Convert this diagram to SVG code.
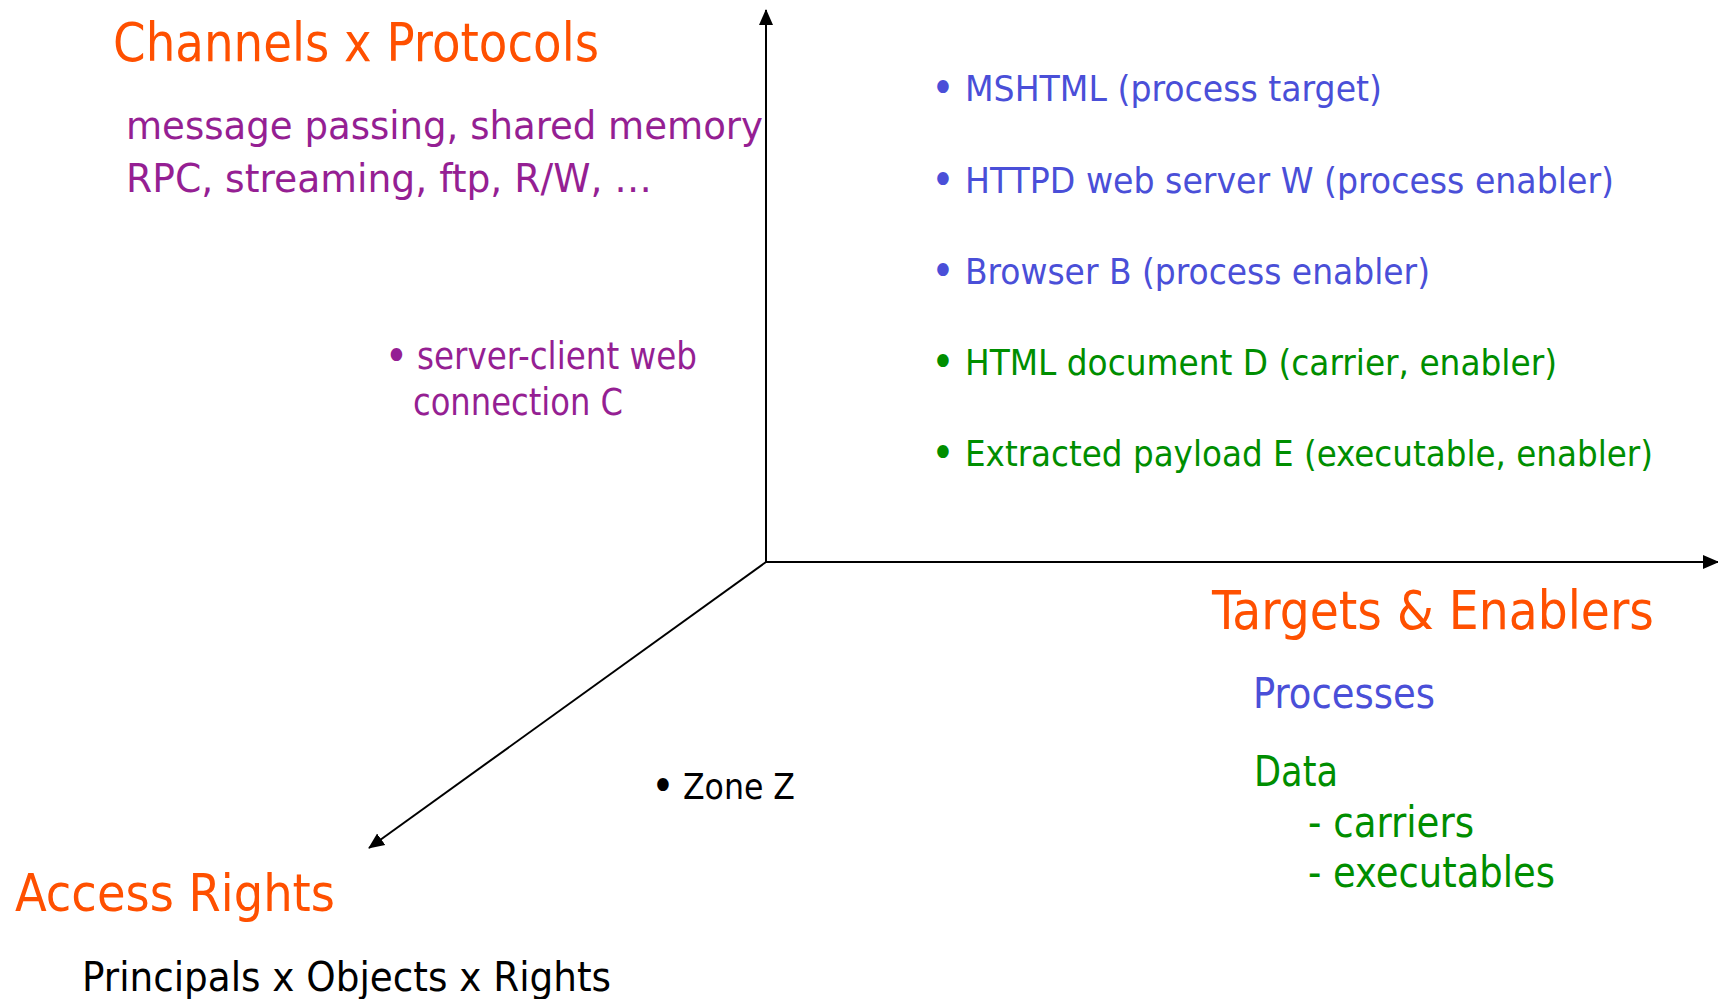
<svg xmlns="http://www.w3.org/2000/svg" width="1718" height="999" viewBox="0 0 1718 999">
<style>
text{font-family:"DejaVu Sans Condensed","DejaVu Sans",sans-serif;}
.h{fill:#FF5000;}
.p{fill:#951F93;}
.b{fill:#4A4FD8;}
.g{fill:#008E00;}
.k{fill:#000;}
.bu{font-size:44px;}
.ax{stroke:#000;stroke-width:2;fill:none;}
</style>
<defs>
<marker id="arr" markerUnits="userSpaceOnUse" markerWidth="16" markerHeight="16" viewBox="0 0 16 16" refX="15" refY="8" orient="auto">
<path d="M0,1 L16,8 L0,15 Z" fill="#000"/>
</marker>
</defs>
<rect width="1718" height="999" fill="#fff"/>
<g id="connectors">
<line class="ax" x1="766" y1="563" x2="766" y2="10" marker-end="url(#arr)"/>
<line class="ax" x1="765" y1="562" x2="1718" y2="562" marker-end="url(#arr)"/>
<line class="ax" x1="766" y1="562" x2="369" y2="848" stroke-width="1.6" marker-end="url(#arr)"/>
</g>
<g id="channels">
<text class="h" x="113" y="61" font-size="54" textLength="486" lengthAdjust="spacingAndGlyphs">Channels x Protocols</text>
<text class="p" x="126" y="139" font-size="39" textLength="637" lengthAdjust="spacingAndGlyphs">message passing, shared memory</text>
<text class="p" x="126" y="192" font-size="39" textLength="526" lengthAdjust="spacingAndGlyphs">RPC, streaming, ftp, R/W, …</text>
</g>
<g id="connection-c">
<text class="p bu" x="396.5" y="371" text-anchor="middle">•</text>
<text class="p" x="417" y="369" font-size="37" textLength="280" lengthAdjust="spacingAndGlyphs">server-client web</text>
<text class="p" x="413" y="415" font-size="37" textLength="210" lengthAdjust="spacingAndGlyphs">connection C</text>
</g>
<g id="items">
<text class="b bu" x="943" y="103" text-anchor="middle">•</text>
<text class="b" x="965" y="101" font-size="36" textLength="417" lengthAdjust="spacingAndGlyphs">MSHTML (process target)</text>
<text class="b bu" x="943" y="195" text-anchor="middle">•</text>
<text class="b" x="965" y="193" font-size="36" textLength="649" lengthAdjust="spacingAndGlyphs">HTTPD web server W (process enabler)</text>
<text class="b bu" x="943" y="286" text-anchor="middle">•</text>
<text class="b" x="965" y="284" font-size="36" textLength="465" lengthAdjust="spacingAndGlyphs">Browser B (process enabler)</text>
<text class="g bu" x="943" y="377" text-anchor="middle">•</text>
<text class="g" x="965" y="375" font-size="36" textLength="592" lengthAdjust="spacingAndGlyphs">HTML document D (carrier, enabler)</text>
<text class="g bu" x="943" y="468" text-anchor="middle">•</text>
<text class="g" x="965" y="466" font-size="36" textLength="688" lengthAdjust="spacingAndGlyphs">Extracted payload E (executable, enabler)</text>
</g>
<g id="targets">
<text class="h" x="1212" y="629" font-size="53" textLength="442" lengthAdjust="spacingAndGlyphs">Targets &amp; Enablers</text>
<text class="b" x="1253" y="708" font-size="42" textLength="182" lengthAdjust="spacingAndGlyphs">Processes</text>
<text class="g" x="1254" y="786" font-size="42" textLength="84" lengthAdjust="spacingAndGlyphs">Data</text>
<text class="g" x="1308" y="837" font-size="42" textLength="166" lengthAdjust="spacingAndGlyphs">- carriers</text>
<text class="g" x="1308" y="887" font-size="42" textLength="247" lengthAdjust="spacingAndGlyphs">- executables</text>
</g>
<g id="zone-z">
<text class="k bu" x="663" y="801" text-anchor="middle">•</text>
<text class="k" x="683" y="799" font-size="36" textLength="112" lengthAdjust="spacingAndGlyphs">Zone Z</text>
</g>
<g id="access-rights">
<text class="h" x="15" y="911" font-size="51" textLength="320" lengthAdjust="spacingAndGlyphs">Access Rights</text>
<text class="k" x="82" y="991" font-size="41" textLength="529" lengthAdjust="spacingAndGlyphs">Principals x Objects x Rights</text>
</g>
</svg>
